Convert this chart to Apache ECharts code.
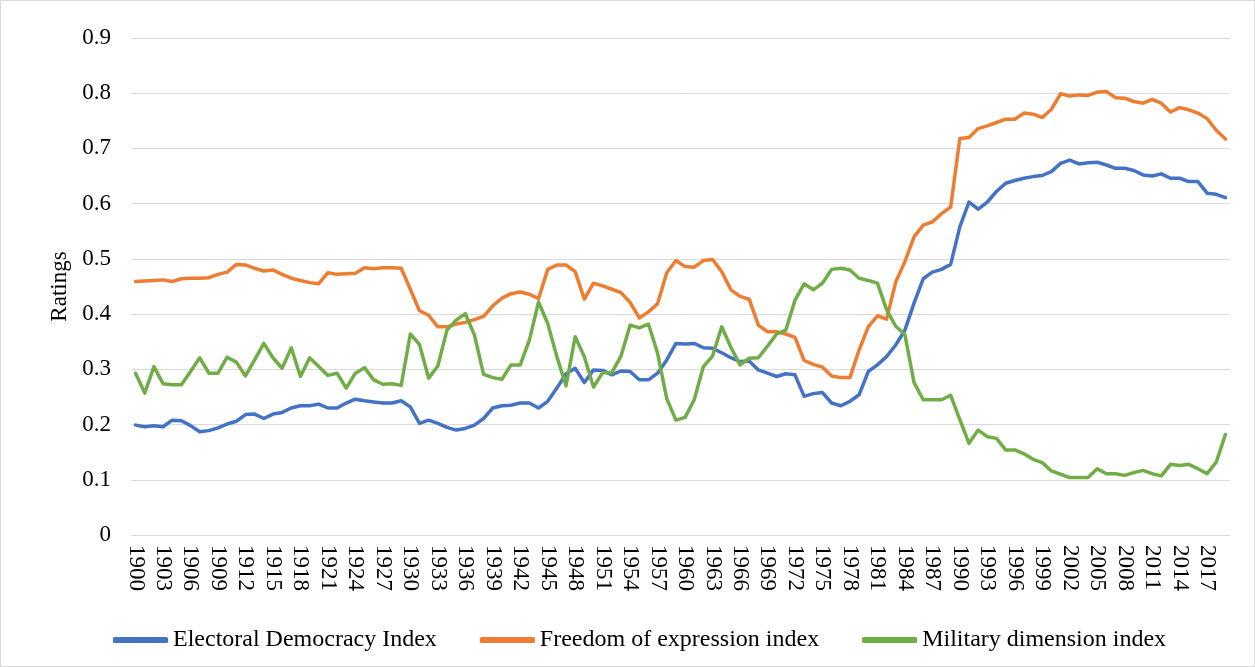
<!DOCTYPE html>
<html>
<head>
<meta charset="utf-8">
<script src="https://cdn.jsdelivr.net/npm/echarts@6/dist/echarts.min.js"></script>
<style>
    html, body { margin: 0; padding: 0; background: #fff; }
    #main { width: 1253px; height: 665px; border: 1px solid #d9d9d9; }
</style>
</head>
<body>
<div id="main"></div>
<script>
// years 1900..2019
var years = [];
for (var y = 1900; y <= 2019; y++) {
    years.push(String(y));
}

var electoralDemocracy = [
    0.199, 0.196, 0.198, 0.196, 0.208, 0.207, 0.198, 0.187, 0.189, 0.194, 0.201, 0.206, 0.218, 0.219, 0.211, 0.219, 0.222, 0.230, 0.234, 0.234, 0.237, 0.230, 0.230, 0.239,
    0.246, 0.243, 0.241, 0.239, 0.239, 0.243, 0.232, 0.202, 0.208, 0.202, 0.195, 0.190, 0.193, 0.199, 0.211, 0.230, 0.234, 0.235, 0.239, 0.239, 0.230, 0.242, 0.266, 0.292,
    0.302, 0.276, 0.299, 0.298, 0.290, 0.297, 0.296, 0.281, 0.281, 0.293, 0.317, 0.347, 0.346, 0.347, 0.339, 0.338, 0.330, 0.321, 0.314, 0.315, 0.299, 0.293, 0.287,
    0.292, 0.290, 0.251, 0.256, 0.258, 0.239, 0.234, 0.242, 0.254, 0.296, 0.308, 0.323, 0.344, 0.371, 0.420, 0.464, 0.476, 0.481, 0.490,
    0.558, 0.603, 0.590, 0.603, 0.622, 0.637, 0.642, 0.646, 0.649, 0.651, 0.658, 0.673, 0.679, 0.672, 0.674, 0.675, 0.670, 0.664, 0.664, 0.660, 0.652, 0.650, 0.654, 0.646, 0.646, 0.640, 0.640, 0.619, 0.617, 0.611
];

var freedomExpression = [
    0.459, 0.460, 0.461, 0.462, 0.459, 0.464, 0.465, 0.465, 0.466, 0.472, 0.476, 0.490, 0.489, 0.483, 0.478, 0.480, 0.472, 0.465, 0.461, 0.457, 0.455, 0.475, 0.472, 0.473,
    0.474, 0.484, 0.482, 0.484, 0.484, 0.483, 0.445, 0.406, 0.398, 0.377, 0.377, 0.382, 0.385, 0.390, 0.396, 0.415, 0.429, 0.437, 0.440, 0.436, 0.428, 0.481, 0.489, 0.489,
    0.477, 0.427, 0.456, 0.451, 0.445, 0.439, 0.421, 0.393, 0.404, 0.419, 0.475, 0.497, 0.486, 0.485, 0.497, 0.499, 0.477, 0.444, 0.432, 0.427, 0.380, 0.368, 0.368,
    0.364, 0.358, 0.316, 0.309, 0.304, 0.288, 0.285, 0.285, 0.335, 0.377, 0.397, 0.391, 0.458, 0.495, 0.540, 0.561, 0.567, 0.582, 0.594,
    0.718, 0.720, 0.736, 0.741, 0.747, 0.753, 0.753, 0.764, 0.762, 0.756, 0.771, 0.799, 0.795, 0.797, 0.796, 0.802, 0.803, 0.792, 0.791, 0.785, 0.782, 0.789, 0.782, 0.766, 0.774, 0.770, 0.764, 0.754, 0.733, 0.717
];

var militaryDimension = [
    0.293, 0.257, 0.305, 0.274, 0.272, 0.272, 0.296, 0.321, 0.293, 0.293, 0.322, 0.313, 0.288, 0.317, 0.347, 0.321, 0.302, 0.339, 0.287, 0.321, 0.305, 0.289, 0.293, 0.266,
    0.293, 0.303, 0.281, 0.273, 0.274, 0.271, 0.364, 0.345, 0.284, 0.306, 0.371, 0.389, 0.401, 0.362, 0.291, 0.285, 0.282, 0.308, 0.308, 0.353, 0.422, 0.383, 0.323, 0.270,
    0.359, 0.323, 0.268, 0.294, 0.294, 0.324, 0.380, 0.375, 0.382, 0.329, 0.247, 0.208, 0.213, 0.245, 0.305, 0.324, 0.377, 0.340, 0.308, 0.320, 0.321, 0.342, 0.364,
    0.371, 0.425, 0.455, 0.444, 0.456, 0.481, 0.483, 0.480, 0.465, 0.461, 0.456, 0.408, 0.378, 0.363, 0.276, 0.245, 0.245, 0.245, 0.253, 0.209, 0.166, 0.190, 0.178,
    0.175, 0.154, 0.154, 0.147, 0.137, 0.131, 0.116, 0.110, 0.104, 0.104, 0.104, 0.120, 0.111, 0.111, 0.108, 0.113, 0.117, 0.111, 0.107, 0.128, 0.126, 0.128, 0.120, 0.111, 0.132, 0.182
];

var seriesNames = ['Electoral Democracy Index', 'Freedom of expression index', 'Military dimension index'];
var seriesColors = ['#4472C4', '#ED7D31', '#70AD47'];

var fontFam = "'Liberation Serif', 'Times New Roman', serif";

var myChart = echarts.init(document.getElementById('main'));

function lineSeries(idx, data) {
    return {
        name: seriesNames[idx],
        type: 'line',
        data: data,
        showSymbol: false,
        symbol: 'none',
        lineStyle: { color: seriesColors[idx], width: 3.5, cap: 'round', join: 'round' },
        itemStyle: { color: seriesColors[idx] },
        animation: false
    };
}

var option = {
    animation: false,
    grid: {
        left: 130,
        right: 24,
        top: 37,
        bottom: 131
    },
    legend: {
        left: 107,
        top: 622,
        icon: 'roundRect',
        itemWidth: 55,
        itemHeight: 6,
        itemGap: 43,
        data: seriesNames,
        textStyle: { fontFamily: fontFam, fontSize: 24, color: '#000' }
    },
    xAxis: {
        type: 'category',
        data: years,
        boundaryGap: true,
        axisLine: { show: true, lineStyle: { color: '#d9d9d9', width: 1 } },
        axisTick: { show: false },
        axisLabel: {
            interval: 2,
            rotate: -90,
            margin: 10,
            fontFamily: fontFam,
            fontSize: 23,
            color: '#000'
        },
        splitLine: { show: false }
    },
    yAxis: {
        type: 'value',
        min: 0,
        max: 0.9,
        interval: 0.1,
        name: 'Ratings',
        nameLocation: 'middle',
        nameGap: 58,
        nameTextStyle: { fontFamily: fontFam, fontSize: 23, color: '#000' },
        axisLine: { show: false },
        axisTick: { show: false },
        axisLabel: {
            margin: 20,
            fontFamily: fontFam,
            fontSize: 23,
            color: '#000'
        },
        splitLine: { show: true, lineStyle: { color: '#d9d9d9', width: 1 } }
    },
    series: [
        lineSeries(0, electoralDemocracy),
        lineSeries(1, freedomExpression),
        lineSeries(2, militaryDimension)
    ]
};
myChart.setOption(option);
</script>
</body>
</html>
